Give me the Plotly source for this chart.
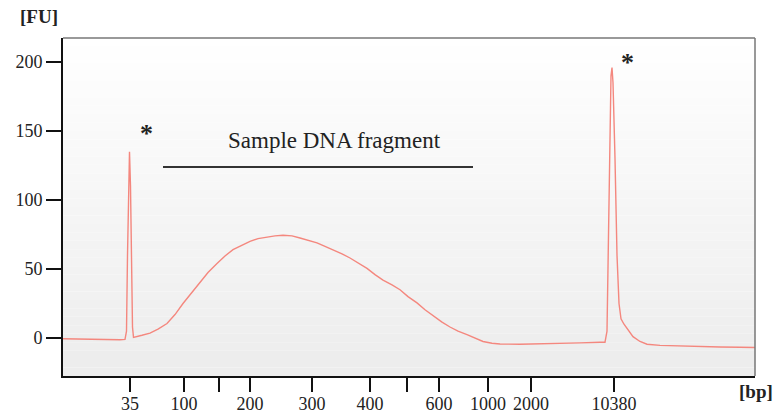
import plotly.graph_objects as go

# migration position (scan index) and fluorescence (FU)
scan = [0, 17, 37, 57, 62, 63.5, 64.5, 65.5, 66.5, 67.5, 68.5, 69.5, 70.5, 74, 79, 87, 95, 104,
        112, 120, 129, 137, 145, 154, 162, 170, 179, 187, 195, 204, 212, 220, 229, 237, 245,
        254, 262, 270, 279, 287, 295, 304, 312, 320, 329, 337, 345, 354, 362, 370, 379, 387,
        395, 404, 412, 420, 429, 437, 457, 477, 497, 517, 537, 542, 544, 546, 548, 549, 550,
        552, 554, 556, 558, 561, 565, 570, 577, 584, 597, 617, 637, 657, 677, 692]
fu = [-0.5, -0.8, -1.0, -1.2, -1.0, 5, 60, 115, 135, 110, 50, 8, 0.5, 1.0, 2.0, 3.6, 6.5, 10.5,
      17, 25, 33, 40.5, 47.5, 54, 59.5, 64, 67.5, 70, 72, 73.2, 74, 74.5, 74, 72.5, 71,
      69, 66.5, 64, 61, 58, 54.5, 50.5, 46, 42, 38.5, 35, 30, 25.5, 20.5, 16, 11.5, 8,
      5, 2.5, 0, -2.5, -3.8, -4.3, -4.5, -4.3, -4.0, -3.5, -3.0, -3.0, 5, 100, 190, 196, 185,
      130, 60, 25, 14, 10, 6, 1, -2.5, -4.5, -5.3, -5.8, -6.2, -6.5, -6.7, -6.8]

tick_pos = [67, 121, 156, 187, 249, 307, 344, 376, 425, 468, 551]
tick_text = ["35", "100", "", "200", "300", "400", "", "600", "1000", "2000", "10380"]
y_ticks = [0, 50, 100, 150, 200]

fragment_start, fragment_end, fragment_level = 100, 410, 124
marker_peaks = [(83, 148.4), (564, 199.5)]

FONT = "Liberation Serif"

fig = go.Figure()
fig.add_trace(go.Scatter(x=scan, y=fu, mode="lines",
                         line=dict(color="#f4877e", width=1.4), hoverinfo="skip"))

shapes = []
# gradient background
n = 40
for i in range(n):
    t = i / (n - 1)
    c = int(255 - t * 18)
    shapes.append(dict(type="rect", xref="paper", yref="paper", x0=0, x1=1,
                       y0=1 - (i + 1) / n, y1=1 - i / n, fillcolor=f"rgb({c},{c},{c})",
                       line=dict(width=0), layer="below"))
# top/right frame
shapes.append(dict(type="line", xref="paper", yref="paper", x0=0, x1=1, y0=1, y1=1,
                   line=dict(color="#777777", width=1.5)))
shapes.append(dict(type="line", xref="paper", yref="paper", x0=1, x1=1, y0=0, y1=1,
                   line=dict(color="#777777", width=1.5)))
# fragment bar
shapes.append(dict(type="line", xref="x", yref="y", x0=fragment_start, x1=fragment_end,
                   y0=fragment_level, y1=fragment_level, line=dict(color="#333333", width=2)))

annotations = [
    dict(text="Sample DNA fragment", x=(fragment_start + fragment_end) / 2 + 16,
         y=fragment_level + 19, xref="x", yref="y", showarrow=False,
         font=dict(family=FONT, size=23, color="#222222")),
    dict(text="<b>[FU]</b>", x=-0.035, y=1.064, xref="paper", yref="paper", showarrow=False,
         xanchor="center", yanchor="middle",
         font=dict(family=FONT, size=19, color="#222222")),
    dict(text="<b>[bp]</b>", x=1.029, y=-0.047, xref="paper", yref="paper", showarrow=False,
         xanchor="right", yanchor="middle", font=dict(family=FONT, size=19, color="#222222")),
]
for px, py in marker_peaks:
    annotations.append(dict(text="<b>*</b>", x=px, y=py, xref="x", yref="y", showarrow=False,
                            font=dict(family=FONT, size=26, color="#222222")))

fig.update_layout(
    width=783, height=415,
    margin=dict(l=63, r=28, t=38, b=39),
    paper_bgcolor="white", plot_bgcolor="rgba(0,0,0,0)",
    showlegend=False, shapes=shapes, annotations=annotations,
    xaxis=dict(range=[0, 692], tickmode="array", tickvals=tick_pos, ticktext=tick_text,
               showgrid=False, zeroline=False, showline=True, linecolor="#111111", linewidth=2,
               ticks="outside", ticklen=14, tickwidth=2, tickcolor="#111111", automargin=False,
               ticklabelstandoff=-4,
               tickfont=dict(family=FONT, size=18, color="#222222")),
    yaxis=dict(range=[-27.5, 217.4], tickmode="array", tickvals=y_ticks,
               showgrid=False, zeroline=False, showline=True, linecolor="#111111", linewidth=2,
               ticks="outside", ticklen=15, tickwidth=2, tickcolor="#111111", automargin=False,
               tickfont=dict(family=FONT, size=18, color="#222222")),
)

fig.write_html("out.html")
